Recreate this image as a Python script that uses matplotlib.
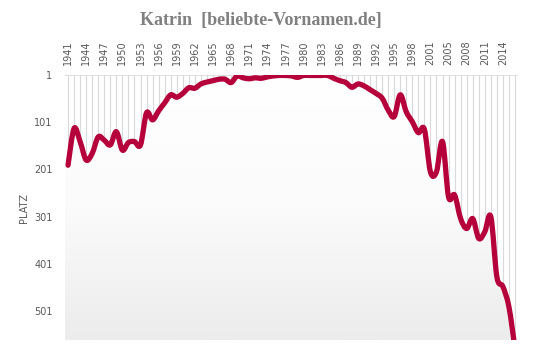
import numpy as np
import matplotlib.pyplot as plt
from matplotlib.path import Path
from matplotlib.patches import PathPatch
from matplotlib.colors import LinearSegmentedColormap

# Jahre (2002 fehlt in der Quelle) und Platzierungen
years = list(range(1941, 2002)) + list(range(2003, 2017))
platz = [192, 114, 142, 181, 167, 132, 139, 149, 121, 160,
         144, 142, 149, 81, 96, 77, 60, 43, 48, 40,
         28, 29, 20, 16, 13, 10, 10, 17, 3, 7,
         9, 7, 8, 5, 3, 2, 2, 3, 6, 2,
         2, 2, 2, 2, 8, 13, 17, 27, 20, 24,
         32, 40, 50, 75, 89, 43, 79, 100, 123, 116,
         206, 206, 142, 259, 255, 305, 326, 305, 347, 333,
         301, 428, 449, 492, 580]
y_ticks = [1, 101, 201, 301, 401, 501]

grau = "#595959"
rot = "#b5003b"
y_unten = 562

fig = plt.figure(figsize=(5.33, 3.55), dpi=100)
ax = fig.add_axes([65 / 533, 1 - 340 / 355, 453 / 533, 265 / 355])

x = np.arange(len(years))
y = np.array(platz, dtype=float)

# geglaettete Linie (Catmull-Rom als Bezier)
verts = [(x[0], y[0])]
codes = [Path.MOVETO]
n = len(x)
for k in range(n - 1):
    p0 = np.array([x[max(k - 1, 0)], y[max(k - 1, 0)]])
    p1 = np.array([x[k], y[k]])
    p2 = np.array([x[k + 1], y[k + 1]])
    p3 = np.array([x[min(k + 2, n - 1)], y[min(k + 2, n - 1)]])
    c1 = p1 + (p2 - p0) / 6
    c2 = p2 - (p3 - p1) / 6
    verts += [tuple(c1), tuple(c2), tuple(p2)]
    codes += [Path.CURVE4] * 3
kurve = Path(verts, codes)

# Flaeche unter der Kurve
f_verts = [(-0.5, y_unten), (-0.5, y[0])] + verts + [(74.5, y[-1]), (74.5, y_unten), (-0.5, y_unten)]
f_codes = [Path.MOVETO, Path.LINETO, Path.LINETO] + codes[1:] + [Path.LINETO, Path.LINETO, Path.CLOSEPOLY]
flaeche = PathPatch(Path(f_verts, f_codes), facecolor="none", edgecolor="none")
ax.add_patch(flaeche)

for xi in x:
    ax.axvline(xi, color="#d9d9d9", lw=0.8, zorder=0)
ax.axhline(1, color="#d9d9d9", lw=1.2, zorder=0)

cmap = LinearSegmentedColormap.from_list("verlauf", ["#ffffff", "#fbfbfb", "#ececec"])
bild = ax.imshow(np.linspace(0, 1, 256).reshape(-1, 1), cmap=cmap, aspect="auto",
                 extent=(-0.5, 74.5, y_unten, 1), origin="upper", zorder=1)
bild.set_clip_path(flaeche)

ax.add_patch(PathPatch(kurve, facecolor="none", edgecolor=rot, lw=3.8,
                       capstyle="round", joinstyle="round", zorder=3))

ax.set_xlim(-0.5, 74.5)
ax.set_ylim(y_unten, 1)

ax.xaxis.tick_top()
ax.set_xticks(x[::3])
ax.set_xticklabels([str(j) for j in years[::3]], rotation=90)
ax.set_yticks(y_ticks)
ax.tick_params(axis="both", length=0, colors=grau, labelsize=7)
ax.tick_params(axis="x", pad=7)
ax.tick_params(axis="y", pad=9)
for s in ax.spines.values():
    s.set_visible(False)

fig.text(24 / 533, 1 - 208 / 355, "PLATZ", rotation=90, ha="center", va="center",
         fontsize=7, color=grau)
fig.text(261 / 533, 1 - 20 / 355, "Katrin  [beliebte-Vornamen.de]", ha="center", va="center",
         family="Liberation Serif", weight="bold", fontsize=13, color="#808080")

fig.savefig("out.png", dpi=100)
